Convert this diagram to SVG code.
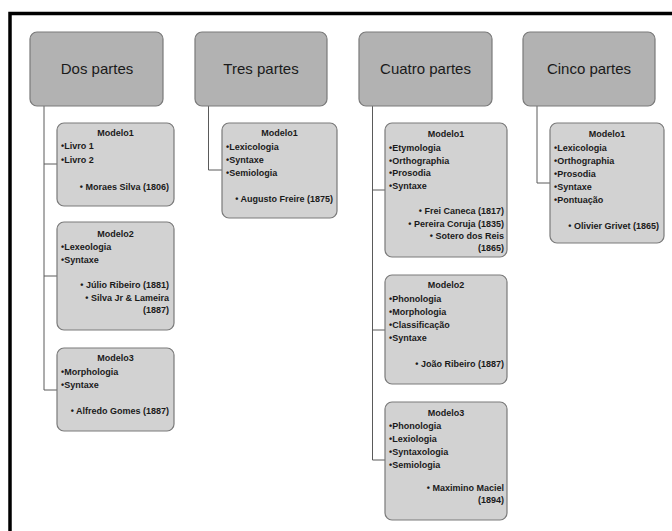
<svg xmlns="http://www.w3.org/2000/svg" width="672" height="531" viewBox="0 0 672 531">
<style>
.top{fill:#b2b2b2;stroke:#7a7a7a;stroke-width:1.2}
.box{fill:#d2d2d2;stroke:#7a7a7a;stroke-width:1.2}
.tl{font-family:"Liberation Sans",Arial,sans-serif;font-size:15px;fill:#1a1a1a;text-anchor:middle}
.t{font-family:"Liberation Sans",Arial,sans-serif;font-size:9px;font-weight:bold;fill:#1a1a1a}
.c{text-anchor:middle}
.r{text-anchor:end}
.conn path{fill:none;stroke:#5a5a5a;stroke-width:1}
</style>
<rect x="0" y="0" width="672" height="531" fill="#ffffff"/>
<path d="M10 531 V13.5 H672" fill="none" stroke="#000" stroke-width="3.5"/>
<g class="conn">
<path d="M44 106 V390 H57 M44 164 H57 M44 276 H57"/>
<path d="M208.5 106 V170 H222"/>
<path d="M372.5 106 V460 H385 M372.5 190 H385 M372.5 330 H385"/>
<path d="M537 106 V183 H550"/>
</g>
<g id="dos">
<rect class="top" x="30" y="32" width="133" height="74" rx="7"/>
<text class="tl" x="97" y="74">Dos partes</text>
</g>
<g id="tres">
<rect class="top" x="195" y="32" width="132" height="74" rx="7"/>
<text class="tl" x="261" y="74">Tres partes</text>
</g>
<g id="cuatro">
<rect class="top" x="359" y="32" width="133" height="74" rx="7"/>
<text class="tl" x="425.5" y="74">Cuatro partes</text>
</g>
<g id="cinco">
<rect class="top" x="523" y="32" width="132" height="74" rx="7"/>
<text class="tl" x="589" y="74">Cinco partes</text>
</g>
<g id="dos-m1">
<rect class="box" x="57" y="123" width="117" height="83" rx="7"/>
<text class="t c" x="115.5" y="136">Modelo1</text>
<text class="t" x="61" y="149">•Livro 1</text>
<text class="t" x="61" y="163">•Livro 2</text>
<text class="t r" x="169" y="190">• Moraes Silva (1806)</text>
</g>
<g id="dos-m2">
<rect class="box" x="57" y="222" width="117" height="108" rx="7"/>
<text class="t c" x="115.5" y="237">Modelo2</text>
<text class="t" x="61" y="250">•Lexeologia</text>
<text class="t" x="61" y="263">•Syntaxe</text>
<text class="t r" x="169" y="288">• Júlio Ribeiro (1881)</text>
<text class="t r" x="169" y="301">• Silva Jr &amp; Lameira</text>
<text class="t r" x="169" y="313">(1887)</text>
</g>
<g id="dos-m3">
<rect class="box" x="57" y="348" width="117" height="83" rx="7"/>
<text class="t c" x="115.5" y="361">Modelo3</text>
<text class="t" x="61" y="375">•Morphologia</text>
<text class="t" x="61" y="388">•Syntaxe</text>
<text class="t r" x="169" y="414">• Alfredo Gomes (1887)</text>
</g>
<g id="tres-m1">
<rect class="box" x="222" y="123" width="115" height="95" rx="7"/>
<text class="t c" x="279.5" y="136">Modelo1</text>
<text class="t" x="226" y="150">•Lexicologia</text>
<text class="t" x="226" y="163">•Syntaxe</text>
<text class="t" x="226" y="176">•Semiologia</text>
<text class="t r" x="333" y="202">• Augusto Freire (1875)</text>
</g>
<g id="cuatro-m1">
<rect class="box" x="385" y="123" width="122" height="134" rx="7"/>
<text class="t c" x="446" y="137">Modelo1</text>
<text class="t" x="389" y="151">•Etymologia</text>
<text class="t" x="389" y="164">•Orthographia</text>
<text class="t" x="389" y="176">•Prosodia</text>
<text class="t" x="389" y="189">•Syntaxe</text>
<text class="t r" x="504" y="214">• Frei Caneca (1817)</text>
<text class="t r" x="504" y="227">• Pereira Coruja (1835)</text>
<text class="t r" x="504" y="239">• Sotero dos Reis</text>
<text class="t r" x="504" y="251">(1865)</text>
</g>
<g id="cuatro-m2">
<rect class="box" x="385" y="275" width="122" height="109" rx="7"/>
<text class="t c" x="446" y="288">Modelo2</text>
<text class="t" x="389" y="302">•Phonologia</text>
<text class="t" x="389" y="315">•Morphologia</text>
<text class="t" x="389" y="328">•Classificação</text>
<text class="t" x="389" y="341">•Syntaxe</text>
<text class="t r" x="504" y="367">• João Ribeiro (1887)</text>
</g>
<g id="cuatro-m3">
<rect class="box" x="385" y="402" width="122" height="118" rx="7"/>
<text class="t c" x="446" y="416">Modelo3</text>
<text class="t" x="389" y="429">•Phonologia</text>
<text class="t" x="389" y="442">•Lexiologia</text>
<text class="t" x="389" y="455">•Syntaxologia</text>
<text class="t" x="389" y="468">•Semiologia</text>
<text class="t r" x="504" y="491">• Maximino Maciel</text>
<text class="t r" x="504" y="503">(1894)</text>
</g>
<g id="cinco-m1">
<rect class="box" x="550" y="123" width="114" height="120" rx="7"/>
<text class="t c" x="607" y="137">Modelo1</text>
<text class="t" x="554" y="151">•Lexicologia</text>
<text class="t" x="554" y="164">•Orthographia</text>
<text class="t" x="554" y="177">•Prosodia</text>
<text class="t" x="554" y="190">•Syntaxe</text>
<text class="t" x="554" y="203">•Pontuação</text>
<text class="t r" x="659" y="229">• Olivier Grivet (1865)</text>
</g>
</svg>
